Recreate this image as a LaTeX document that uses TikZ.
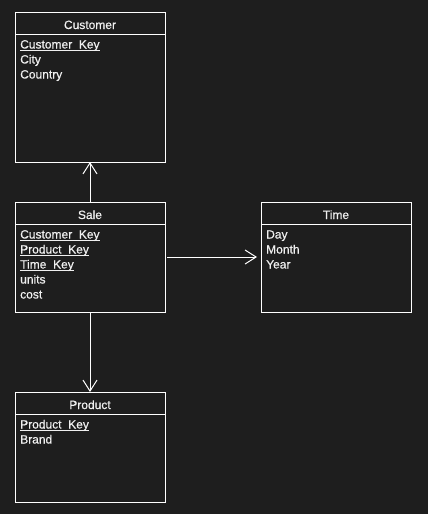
\documentclass[tikz,border=0pt]{standalone}
\usepackage{fontspec}
\setmainfont{Liberation Sans}[BoldFont=Liberation Sans, BoldFeatures={FakeBold=0.5}]
\usetikzlibrary{arrows.meta,positioning}
\definecolor{canvas}{HTML}{1E1E1E}
\definecolor{ink}{HTML}{F0F0F0}

\tikzset{
    table/.style={draw=white, line width=1pt, minimum width=150pt, inner sep=0pt, outer sep=0pt, anchor=north west},
    title/.style={text=ink, font=\fontsize{12}{15}\selectfont\bfseries, inner sep=0pt, anchor=base},
    field/.style={text=ink, font=\fontsize{12}{15}\selectfont\bfseries, inner sep=0pt, anchor=base west},
    link/.style={draw=white, line width=1pt, -{Straight Barb[length=11pt,width=14pt,line width=1pt]}}
}

\newcommand{\keyfield}[1]{\setbox0\hbox{#1}\rlap{\rule[-2.4pt]{\wd0}{1pt}}\box0}

\begin{document}
\begin{tikzpicture}[x=1pt,y=-1pt]
    % Background
    \fill[canvas] (0,0) rectangle (428,514);
    \useasboundingbox (0,0) rectangle (428,514);

    % Draw tables
    \node[table, minimum height=150pt] (customer) at (15,12) {};
    \node[table, minimum height=110pt] (sale) at (15,202) {};
    \node[table, minimum height=110pt] (time) at (261,202) {};
    \node[table, minimum height=110pt] (product) at (15,392) {};

    % Header rules
    \draw[white, line width=1pt] (15,34) -- (165,34);
    \draw[white, line width=1pt] (15,224) -- (165,224);
    \draw[white, line width=1pt] (261,224) -- (411,224);
    \draw[white, line width=1pt] (15,414) -- (165,414);

    % Titles
    \node[title] (customer title) at (90,29) {Customer};
    \node[title] (sale title) at (90,219) {Sale};
    \node[title] (time title) at (336,219) {Time};
    \node[title] (product title) at (90,409) {Product};

    % Fields
    \node[field] (customer key) at (20,48.5) {\keyfield{Customer\_Key}};
    \node[field] (city) at (20,63.5) {City};
    \node[field] (country) at (20,78.5) {Country};

    \node[field] (sale customer) at (20,238.5) {\keyfield{Customer\_Key}};
    \node[field] (sale product) at (20,253.5) {\keyfield{Product\_Key}};
    \node[field] (sale time) at (20,268.5) {\keyfield{Time\_Key}};
    \node[field] (units) at (20,283.5) {units};
    \node[field] (cost) at (20,298.5) {cost};

    \node[field] (day) at (266,238.5) {Day};
    \node[field] (month) at (266,253.5) {Month};
    \node[field] (year) at (266,268.5) {Year};

    \node[field] (product key) at (20,428.5) {\keyfield{Product\_Key}};
    \node[field] (brand) at (20,443.5) {Brand};

    % Draw links
    \draw[link] (sale.north) -- (customer.south);
    \draw[link] (sale.east) ++(2,0) -- ([xshift=-4pt]time.west);
    \draw[link] (sale.south) -- (product.north);
\end{tikzpicture}
\end{document}
